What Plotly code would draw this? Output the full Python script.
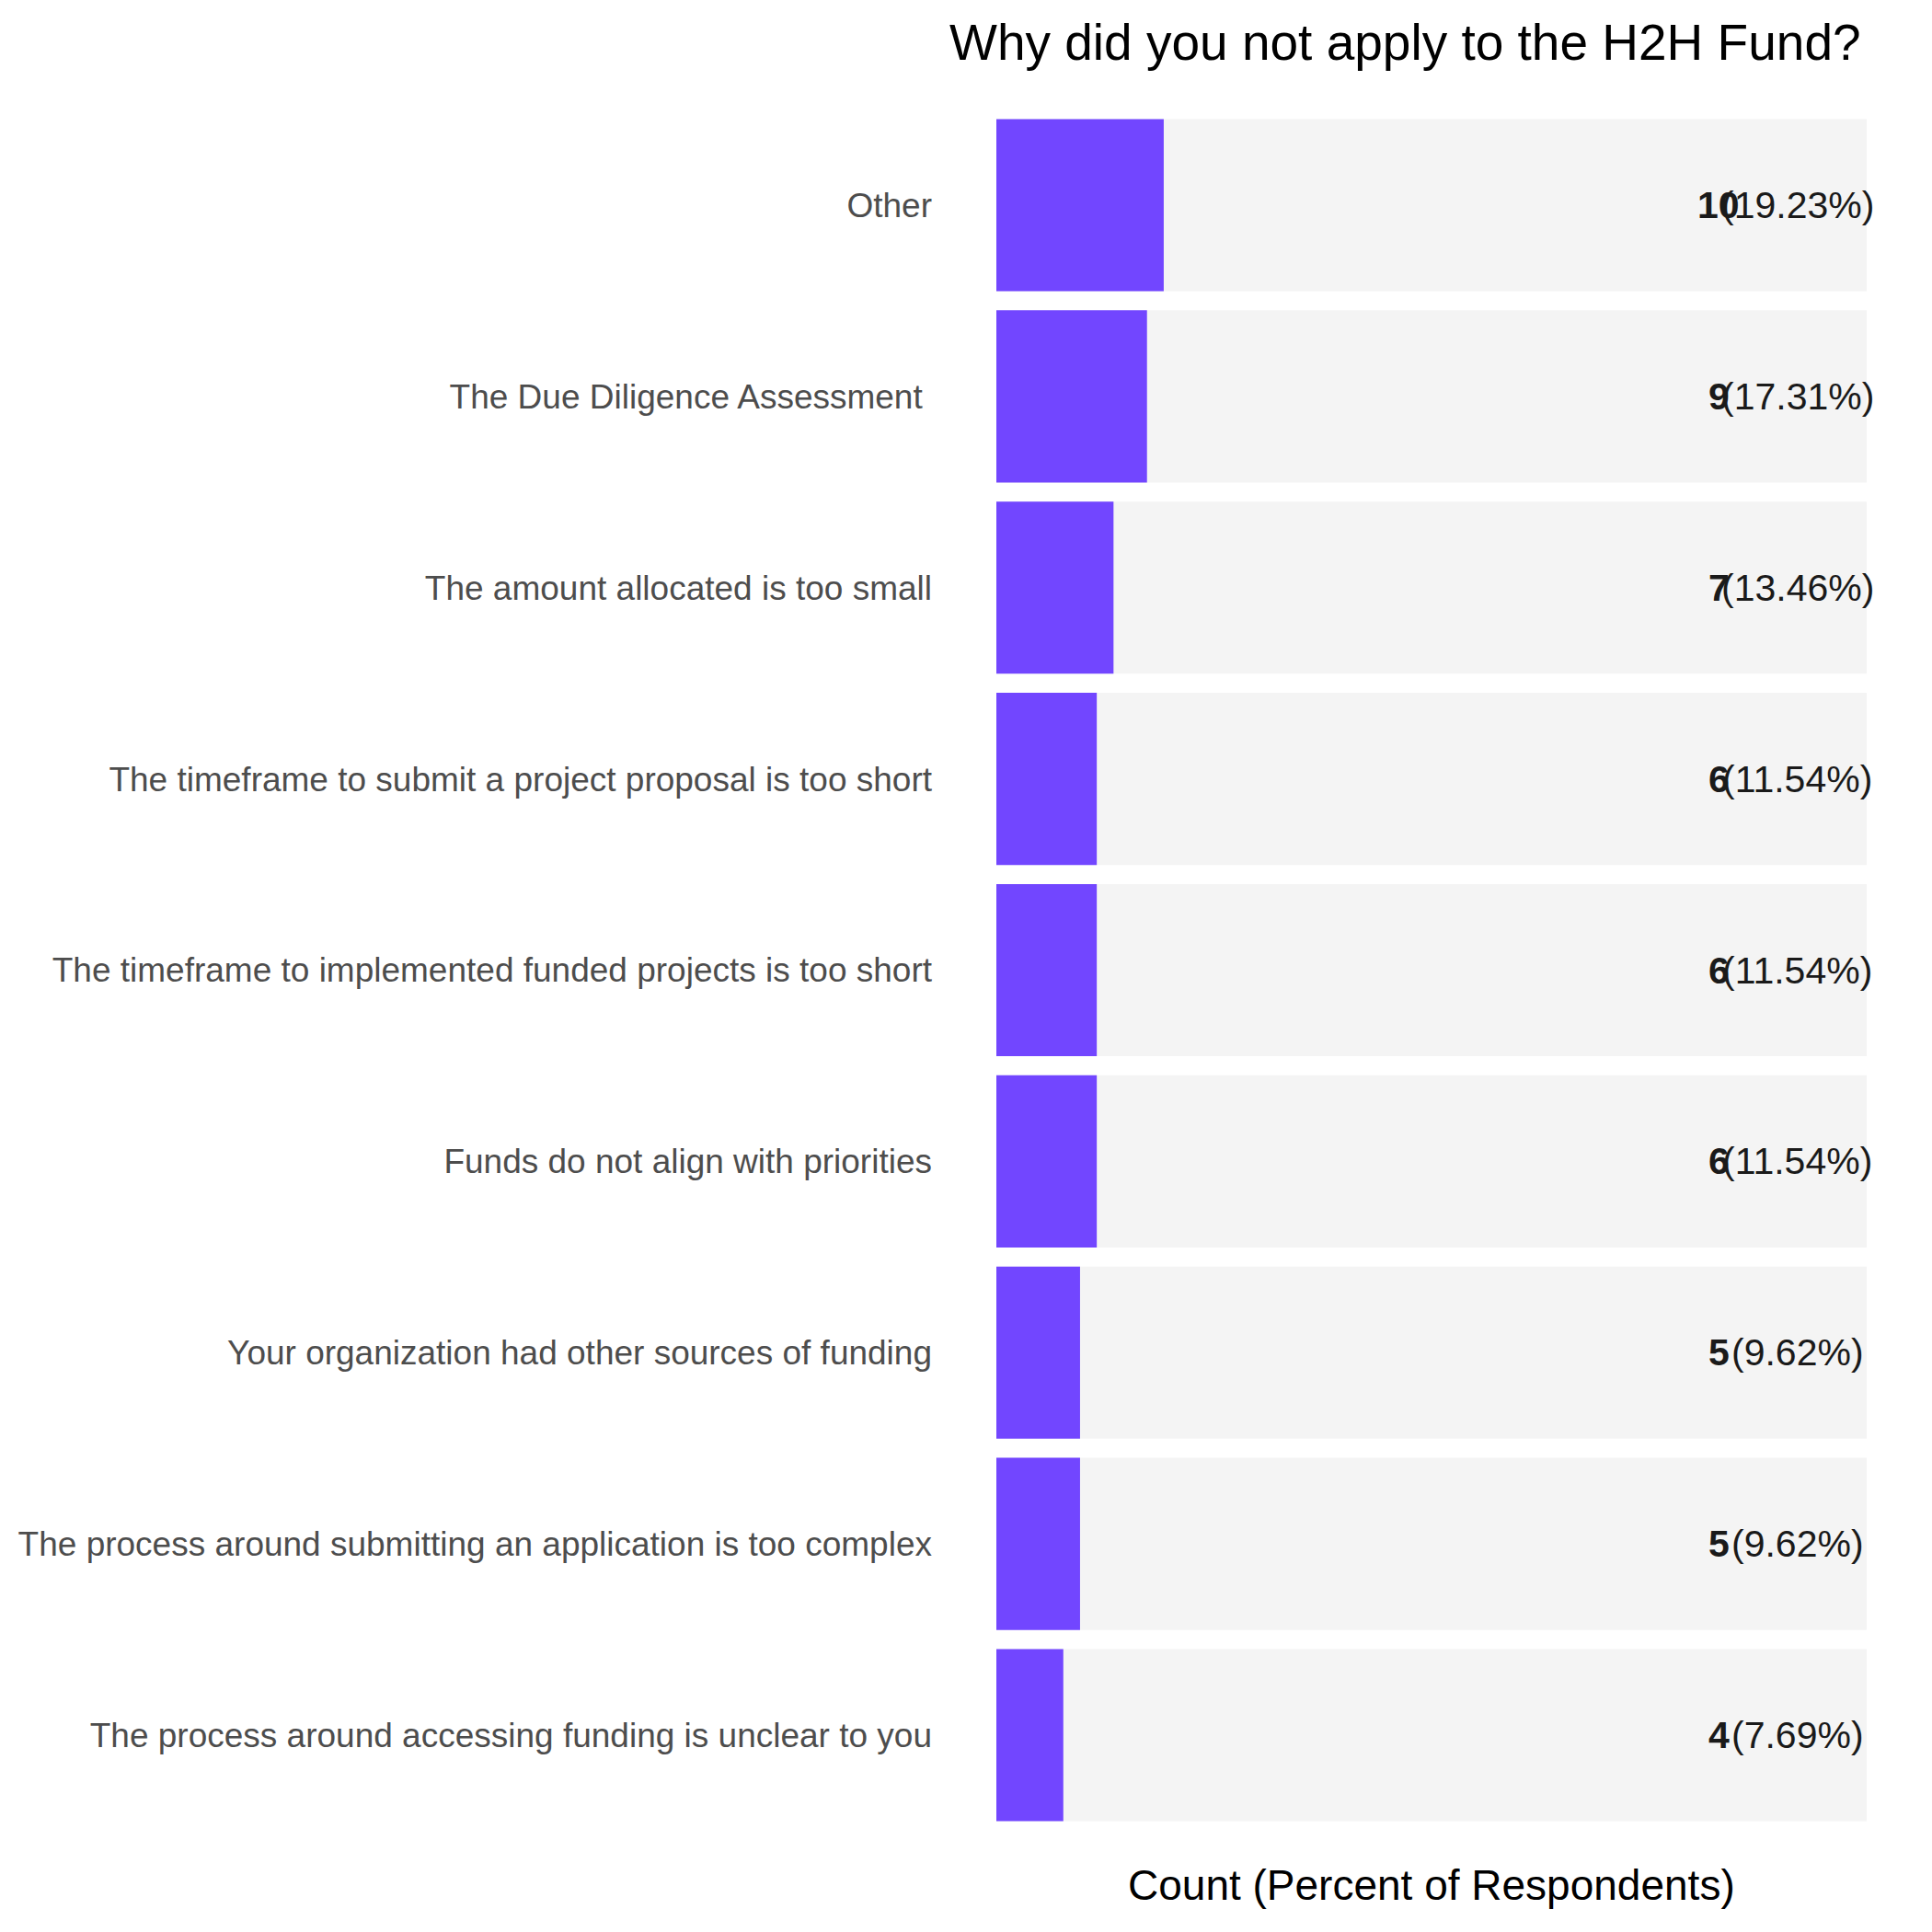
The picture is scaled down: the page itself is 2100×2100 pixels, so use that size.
import plotly.graph_objects as go

categories = [
    "Other",
    "The Due Diligence Assessment ",
    "The amount allocated is too small",
    "The timeframe to submit a project proposal is too short",
    "The timeframe to implemented funded projects is too short",
    "Funds do not align with priorities",
    "Your organization had other sources of funding",
    "The process around submitting an application is too complex",
    "The process around accessing funding is unclear to you",
]
counts = [10, 9, 7, 6, 6, 6, 5, 5, 4]
percents = ["19.23%", "17.31%", "13.46%", "11.54%", "11.54%", "11.54%", "9.62%", "9.62%", "7.69%"]
total_respondents = 52

title_text = "Why did you not apply to the H2H Fund?"
x_title_text = "Count (Percent of Respondents)"

W, H = 2100, 2100
OFF = 8  # page body margin
# target page pixel positions of the panel
PL, PR, PT, PB = 1075, 2029, 118.5, 1990.5
ML, MR, MT, MB = PL - OFF, (W + OFF) - PR, PT - OFF, (H + OFF) - PB
plot_w, plot_h = PR - PL, PB - PT

FONT = "Liberation Sans, Arial"

fig = go.Figure()
fig.add_trace(go.Bar(
    y=categories, x=[total_respondents] * len(categories), orientation="h",
    marker=dict(color="#F4F4F4", line=dict(width=0)), hoverinfo="skip", showlegend=False,
))
fig.add_trace(go.Bar(
    y=categories, x=counts, orientation="h",
    marker=dict(color="#7246FF", line=dict(width=0)), showlegend=False,
))

for cat, c, p in zip(categories, counts, percents):
    fig.add_annotation(x=43.17, y=cat, xref="x", yref="y", text=f"<b>{c}</b>",
                       showarrow=False, xanchor="center", yanchor="middle",
                       font=dict(family=FONT, size=41, color="#1A1A1A"))
    fig.add_annotation(x=47.86, y=cat, xref="x", yref="y", text=f"({p})",
                       showarrow=False, xanchor="center", yanchor="middle",
                       font=dict(family=FONT, size=41, color="#1A1A1A"))

fig.add_annotation(x=(1523 - PL) / plot_w, y=(PB - 45) / plot_h, xref="paper", yref="paper",
                   text=title_text, showarrow=False, xanchor="center", yanchor="middle",
                   font=dict(family=FONT, size=55, color="#000000"))
fig.add_annotation(x=0.5, y=-(2050 - PB) / plot_h, xref="paper", yref="paper",
                   text=x_title_text, showarrow=False, xanchor="center", yanchor="middle",
                   font=dict(family=FONT, size=46, color="#000000"))

fig.update_layout(
    width=W, height=H,
    margin=dict(l=ML, r=MR, t=MT, b=MB, pad=0),
    barmode="overlay", bargap=0.1,
    paper_bgcolor="white", plot_bgcolor="white",
    xaxis=dict(range=[0, total_respondents], showgrid=False, zeroline=False,
               showticklabels=False, ticks="", showline=False, fixedrange=True),
    yaxis=dict(categoryorder="array", categoryarray=categories, autorange=False,
               range=[len(categories) - 0.5, -0.5], showgrid=False, zeroline=False,
               ticks="", showline=False, ticklabelstandoff=69,
               tickvals=categories,
               ticktext=[c.rstrip() + ("\u00a0" if c.endswith(" ") else "") for c in categories],
               tickfont=dict(family=FONT, size=37, color="#4D4D4D")),
    font=dict(family=FONT),
)

fig.write_html("out.html")
